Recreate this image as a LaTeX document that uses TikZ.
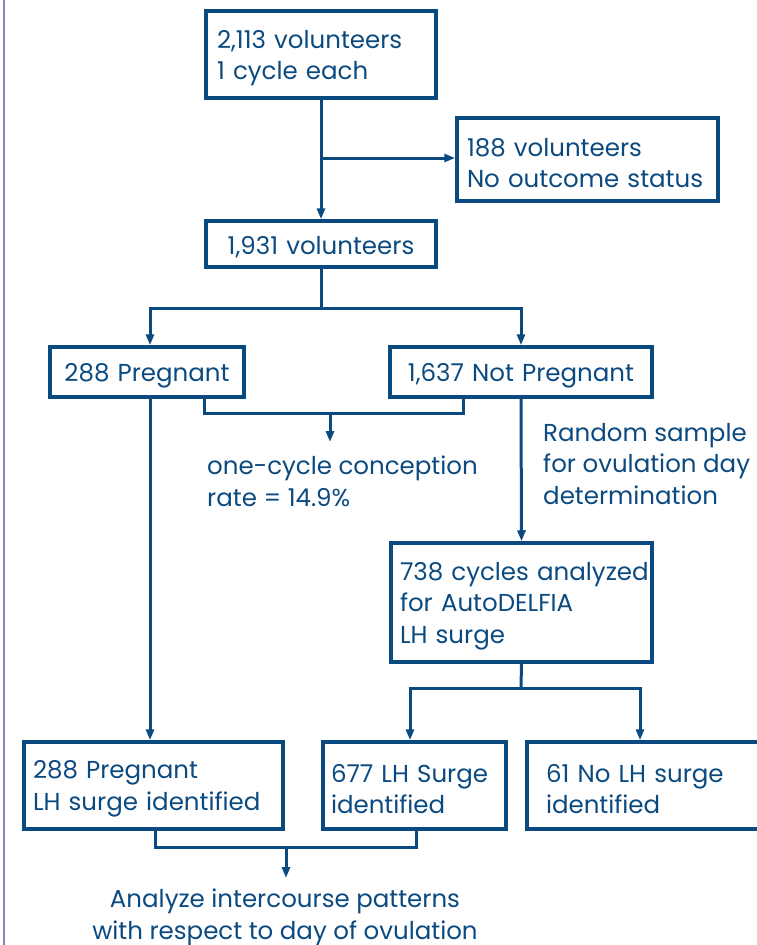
\documentclass[tikz,border=0pt]{standalone}
\usepackage{fontspec}
\setmainfont{Poppins}
\usetikzlibrary{arrows.meta}
\definecolor{navy}{HTML}{0B4A80}
\definecolor{lav}{HTML}{8C80BE}
\begin{document}
\begin{tikzpicture}[x=1pt,y=-1pt,
  font=\fontsize{24.5}{31.5}\selectfont,
  box/.style={draw=navy, line width=3.5pt, text=navy, rectangle, align=left, inner ysep=0pt, inner xsep=11pt,
    execute at begin node={\rule{0pt}{25pt}}},
  cbox/.style={box, align=center},
  conn/.style={draw=navy, line width=3pt},
  arr/.style={conn, -{Triangle[length=11pt,width=8pt]}},
  lbl/.style={text=navy, inner sep=0pt, align=left}]
\useasboundingbox (0,0) rectangle (757,945);
\draw[lav, line width=2pt] (4,0) -- (4,945);

% boxes
\node[box, text width=208pt, minimum height=87pt] (b1) at (321,54.5) {\mbox{2,113 volunteers}\\\mbox{1 cycle each}};
\node[box, inner xsep=10pt, text width=241pt, minimum height=83pt] (b188) at (587.5,159.5) {\mbox{188 volunteers}\\\mbox{No outcome status}};
\node[cbox, text width=208pt, minimum height=46pt] (b1931) at (321,244) {\mbox{1,931 volunteers}};
\node[cbox, text width=172pt, minimum height=50pt] (b288) at (147,372) {\mbox{288 Pregnant}};
\node[cbox, text width=240pt, minimum height=50pt] (b1637) at (521,372) {\mbox{1,637 Not Pregnant}};
\node[box, inner xsep=9pt, text width=243pt, minimum height=119pt] (b738) at (521.5,602.5) {\mbox{738 cycles analyzed}\\\mbox{for AutoDELFIA}\\\mbox{LH surge}};
\node[box, inner xsep=9pt, text width=241pt, minimum height=87pt] (b288lh) at (153.5,785.5) {\mbox{288 Pregnant}\\\mbox{LH surge identified}};
\node[box, inner xsep=8pt, text width=167pt, minimum height=87pt] (b677) at (414.5,785.5) {\mbox{677 LH Surge}\\\mbox{identified}};
\node[box, inner xsep=19pt, text width=210pt, minimum height=87pt] (b61) at (651,785.5) {\mbox{61 No LH surge}\\\mbox{identified}};

% free labels
\node[lbl, anchor=north west] (rate) at (207,456) {one-cycle conception\\rate = 14.9\%};
\node[lbl, anchor=north west] (rand) at (543,423) {Random sample\\for ovulation day\\determination};
\node[lbl, anchor=north, align=center] (anal) at (285,889) {Analyze intercourse patterns\\with respect to day of ovulation};

% connectors
\coordinate (j1) at (321,158);
\draw[arr] (b1.south) -- (b1931.north);
\draw[arr] (j1) -- (j1 -| b188.west);

\coordinate (j2) at (321,308);
\coordinate (x150) at (150,0);
\draw[conn] (b1931.south) -- (j2);
\draw[arr] (j2) -| (b288.north -| x150);
\draw[arr] (j2) -| (b1637.north);

\coordinate (pr) at (204,397);
\coordinate (np) at (463,397);
\coordinate (rj) at (330,413);
\coordinate (rt) at (330,442);
\draw[conn] (pr) |- (rj) -| (np);
\draw[arr] (rj) -- (rt);

\draw[arr] (b288.south -| x150) -- (b288lh.north -| x150);
\draw[arr] (b1637.south) -- (b738.north);

\coordinate (j3) at (521,688);
\coordinate (x410) at (410,0);
\coordinate (x640) at (640,0);
\draw[conn] (b738.south) -- (j3);
\draw[arr] (j3) -| (b677.north -| x410);
\draw[arr] (j3) -| (b61.north -| x640);

\coordinate (l1) at (155,829);
\coordinate (l2) at (416,829);
\coordinate (bj) at (286,847);
\coordinate (bt) at (286,878);
\draw[conn] (l1) |- (bj) -| (l2);
\draw[arr] (bj) -- (bt);
\end{tikzpicture}
\end{document}
